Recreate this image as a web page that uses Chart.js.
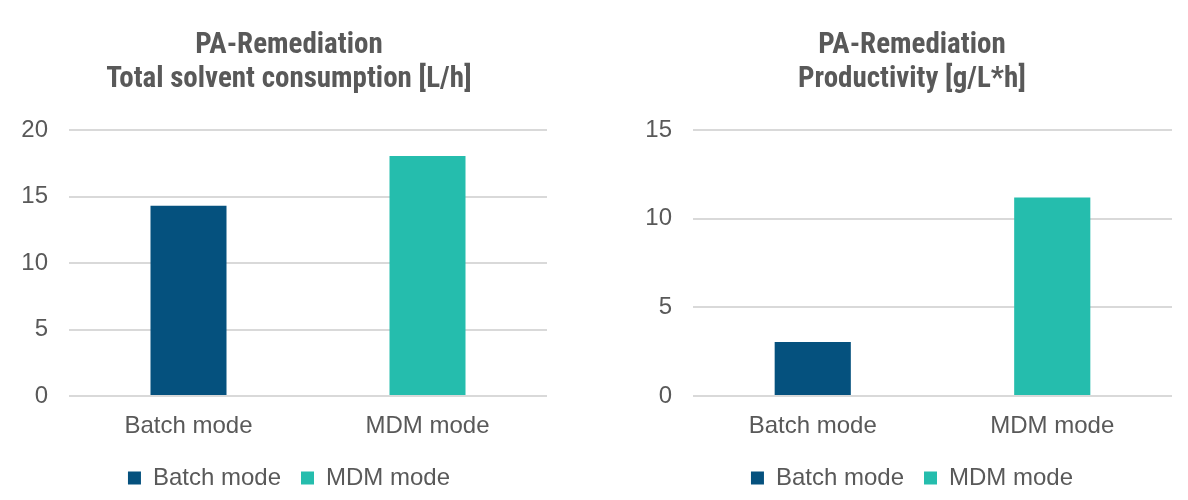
<!DOCTYPE html>
<html>
<head>
<meta charset="utf-8">
<title>PA-Remediation</title>
<script src="https://cdn.jsdelivr.net/npm/chart.js@4.4.0/dist/chart.umd.min.js"></script>
<style>
    html, body { margin: 0; padding: 0; background: #fff; }
    #wrap { position: relative; width: 1188px; height: 500px; overflow: hidden; }
    canvas { position: absolute; top: 0; }
    #left { left: 0; }
    #right { left: 594px; }
</style>
</head>
<body>
<div id="wrap">
    <canvas id="left" width="578" height="500"></canvas>
    <canvas id="right" width="594" height="500"></canvas>
</div>
<script>
const categories = ['Batch mode', 'MDM mode'];
const seriesColors = ['#05517e', '#25bdad'];

const solventTitle = ['PA-Remediation', 'Total solvent consumption [L/h]'];
const solventValues = [14.3, 18.05];
const solventMax = 20;

const productivityTitle = ['PA-Remediation', 'Productivity [g/L*h]'];
const productivityValues = [3.05, 11.2];
const productivityMax = 15;

const textColor = '#595959';
const gridColor = '#d9d9d9';
const labelFont = {family: '"Liberation Sans", Arial, sans-serif', size: 24};
const titleFont = {
    family: '"Roboto Condensed", "Liberation Sans Narrow", "DejaVu Sans Condensed", sans-serif',
    size: 29,
    weight: 'bold',
    lineHeight: 34 / 29
};

// y labels sit left of the padded area, so widen the label clip after layout
const unclipLabels = {
    id: 'unclipLabels',
    afterLayout: (chart) => {
        chart.scales.y.left = 0;
    }
};

// one dataset per category so the legend shows both modes
const buildDatasets = (values) => {
    return categories.map((cat, i) => ({
        label: cat,
        data: values.map((v, j) => (i === j ? v : null)),
        backgroundColor: seriesColors[i],
        borderWidth: 0
    }));
}

const makeChart = (id, titleLines, values, yMax, pad) => {
    const ctx = document.getElementById(id);
    return new Chart(ctx, {
        type: 'bar',
        data: {
            labels: categories,
            datasets: buildDatasets(values)
        },
        plugins: [unclipLabels],
        options: {
            responsive: false,
            animation: false,
            grouped: false,
            categoryPercentage: 1,
            barPercentage: 0.318,
            layout: {
                padding: {left: pad.left, right: pad.right, top: 0, bottom: 0}
            },
            plugins: {
                title: {
                    display: true,
                    text: titleLines,
                    color: textColor,
                    font: titleFont,
                    padding: {top: 29, bottom: 33}
                },
                legend: {
                    position: 'bottom',
                    labels: {
                        color: textColor,
                        font: labelFont,
                        boxWidth: 13,
                        boxHeight: 13,
                        padding: 20
                    }
                },
                tooltip: {enabled: false}
            },
            scales: {
                x: {
                    grid: {display: false, drawTicks: false},
                    border: {display: false},
                    ticks: {color: textColor, font: labelFont, padding: 16},
                    afterFit: (scale) => { scale.height = 50; }
                },
                y: {
                    min: 0,
                    max: yMax,
                    grid: {color: gridColor, lineWidth: 2, drawTicks: false},
                    border: {display: false},
                    ticks: {stepSize: 5, color: textColor, font: labelFont, padding: 21},
                    afterFit: (scale) => { scale.width = pad.axis; }
                }
            }
        }
    });
}

makeChart('left', solventTitle, solventValues, solventMax, {left: 31, right: 31, axis: 38});
makeChart('right', productivityTitle, productivityValues, productivityMax, {left: 58, right: 16, axis: 41});
</script>
</body>
</html>
